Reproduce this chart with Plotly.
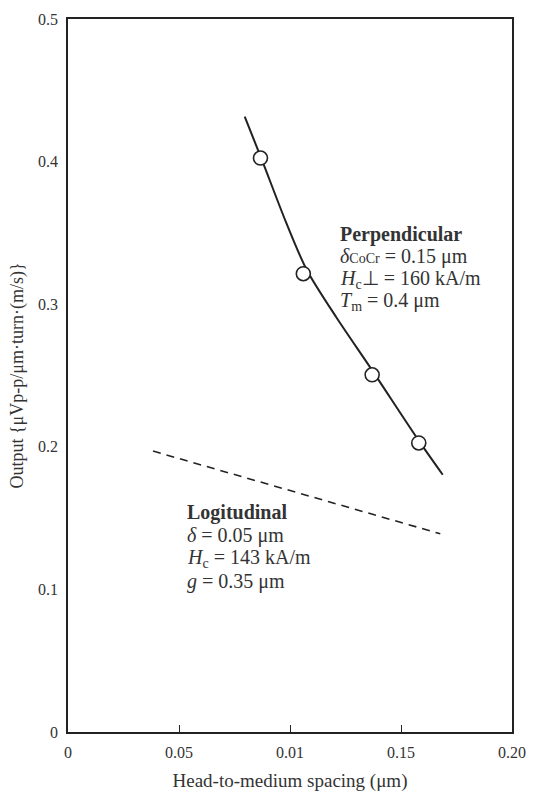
import plotly.graph_objects as go

# Perpendicular medium: measured points
perp_x = [0.0867, 0.106, 0.137, 0.158]
perp_y = [0.4025, 0.3214, 0.2505, 0.2027]
# Hand-fitted curve drawn through the perpendicular points
perp_curve_x = [0.0796, 0.0873, 0.0981, 0.1075, 0.1210, 0.1368, 0.1580, 0.1688]
perp_curve_y = [0.4315, 0.4014, 0.3579, 0.3242, 0.2905, 0.2541, 0.2043, 0.1804]

# Longitudinal medium: estimated trend
long_x = [0.0383, 0.1677]
long_y = [0.197, 0.139]

x_tickvals = [0, 0.05, 0.10, 0.15, 0.20]
x_ticktext = ["0", "0.05", "0.01", "0.15", "0.20"]
y_tickvals = [0, 0.1, 0.2, 0.3, 0.4, 0.5]
y_ticktext = ["0", "0.1", "0.2", "0.3", "0.4", "0.5"]

perp_lines = [
    "<b>Perpendicular</b>",
    "<i>δ</i><span style='font-size:14px'>CoCr</span> = 0.15 μm",
    "<i>H</i><sub>c</sub>⊥ = 160 kA/m",
    "<i>T</i><sub>m</sub> = 0.4 μm",
]
long_lines = [
    "<b>Logitudinal</b>",
    "<i>δ</i> = 0.05 μm",
    "<i>H</i><sub>c</sub> = 143 kA/m",
    "<i>g</i> = 0.35 μm",
]

FONT = "Liberation Serif, Times New Roman, serif"
INK = "#222222"
TEXT = "#333333"

fig = go.Figure()

fig.add_trace(go.Scatter(
    x=perp_curve_x, y=perp_curve_y, mode="lines",
    line=dict(color=INK, width=2, shape="spline", smoothing=0.8),
    hoverinfo="skip", showlegend=False,
))
fig.add_trace(go.Scatter(
    x=perp_x, y=perp_y, mode="markers",
    marker=dict(symbol="circle", size=14, color="white",
                line=dict(color=INK, width=1.6)),
    showlegend=False,
))
fig.add_trace(go.Scatter(
    x=long_x, y=long_y, mode="lines",
    line=dict(color=INK, width=1.6, dash="8px,6px"),
    showlegend=False,
))

# Parameter blocks, one annotation per line for tight line spacing
def add_block(lines, x0, y0, step):
    for i, txt in enumerate(lines):
        fig.add_annotation(x=x0, y=y0 - i * step, xref="x", yref="y", text=txt,
                           showarrow=False, xanchor="left", yanchor="middle",
                           align="left", font=dict(family=FONT, size=20, color=TEXT))

add_block(perp_lines, 0.1215, 0.349, 0.0157)
add_block(long_lines, 0.0526, 0.1538, 0.0162)

fig.update_layout(
    width=544, height=793,
    margin=dict(l=68, r=32, t=19, b=61),
    paper_bgcolor="white", plot_bgcolor="white",
    font=dict(family=FONT, size=16, color=TEXT),
    showlegend=False,
)
fig.update_xaxes(
    range=[0, 0.20], tickvals=x_tickvals, ticktext=x_ticktext,
    showgrid=False, zeroline=False, automargin=False,
    showline=True, linecolor=INK, linewidth=1.5, mirror=True,
    ticks="inside", ticklen=7, tickcolor=INK, tickwidth=1.2,
    ticklabelstandoff=5,
    title=dict(text="Head-to-medium spacing (μm)", standoff=14,
               font=dict(family=FONT, size=19, color=TEXT)),
)
fig.update_yaxes(
    range=[0, 0.5], tickvals=y_tickvals, ticktext=y_ticktext,
    showgrid=False, zeroline=False, automargin=False,
    showline=True, linecolor=INK, linewidth=1.5, mirror=True,
    ticks="", ticklabelstandoff=5,
    title=dict(text="Output {μVp-p/μm·turn·(m/s)}", standoff=10,
               font=dict(family=FONT, size=18, color=TEXT)),
)

fig.write_html("out.html")
